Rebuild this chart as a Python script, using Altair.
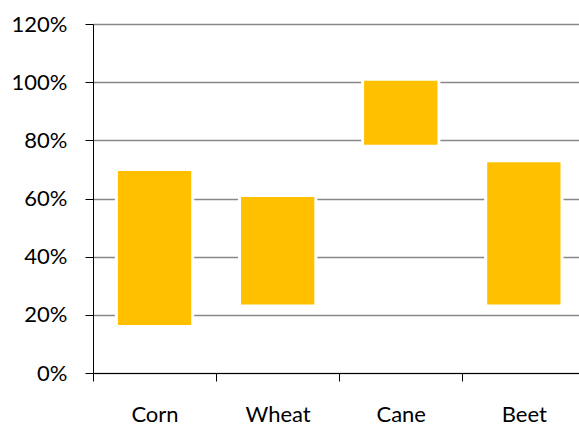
import json
import altair as alt
import pandas as pd

categories = ["Corn", "Wheat", "Cane", "Beet"]
low = [0.16, 0.23, 0.78, 0.23]
high = [0.70, 0.61, 1.01, 0.73]

df = pd.DataFrame({
    "crop": categories,
    "idx": list(range(len(categories))),
    "low": low,
    "high": high,
})

FONT = "Lato"
label_expr = json.dumps(categories) + "[datum.value]"

bars = alt.Chart(df).transform_calculate(
    x0="datum.idx + 0.19", x1="datum.idx + 0.81"
).mark_bar(color="#FFC000", stroke="white", strokeWidth=3).encode(
    x=alt.X("x0:Q",
            scale=alt.Scale(domain=[0, 3.948], nice=False, zero=False),
            axis=alt.Axis(values=[0, 1, 2, 3], title=None, grid=False,
                          labelExpr=label_expr, labelOffset=61.5,
                          labelOverlap=False, labelBound=False, labelFlush=False,
                          domainColor="black", tickColor="black", tickSize=8,
                          labelPadding=23, labelFont=FONT, labelFontSize=22,
                          labelColor="black")),
    x2="x1:Q",
    y=alt.Y("low:Q",
            scale=alt.Scale(domain=[0, 1.2], nice=False),
            axis=alt.Axis(values=[0, 0.2, 0.4, 0.6, 0.8, 1.0, 1.2], format=".0%",
                          title=None, grid=True, gridColor="#888888", gridWidth=1.6,
                          domainColor="black", tickColor="black", tickSize=8,
                          labelPadding=18, labelFont=FONT, labelFontSize=22,
                          labelColor="black")),
    y2="high:Q",
)

chart = bars.properties(
    width=486, height=349,
    autosize=alt.AutoSizeParams(type="none"),
    padding={"left": 93, "top": 24, "right": 0, "bottom": 52},
).configure_view(stroke=None).configure(background="white")

chart.save("out.html", embed_options={"renderer": "svg", "actions": False})
